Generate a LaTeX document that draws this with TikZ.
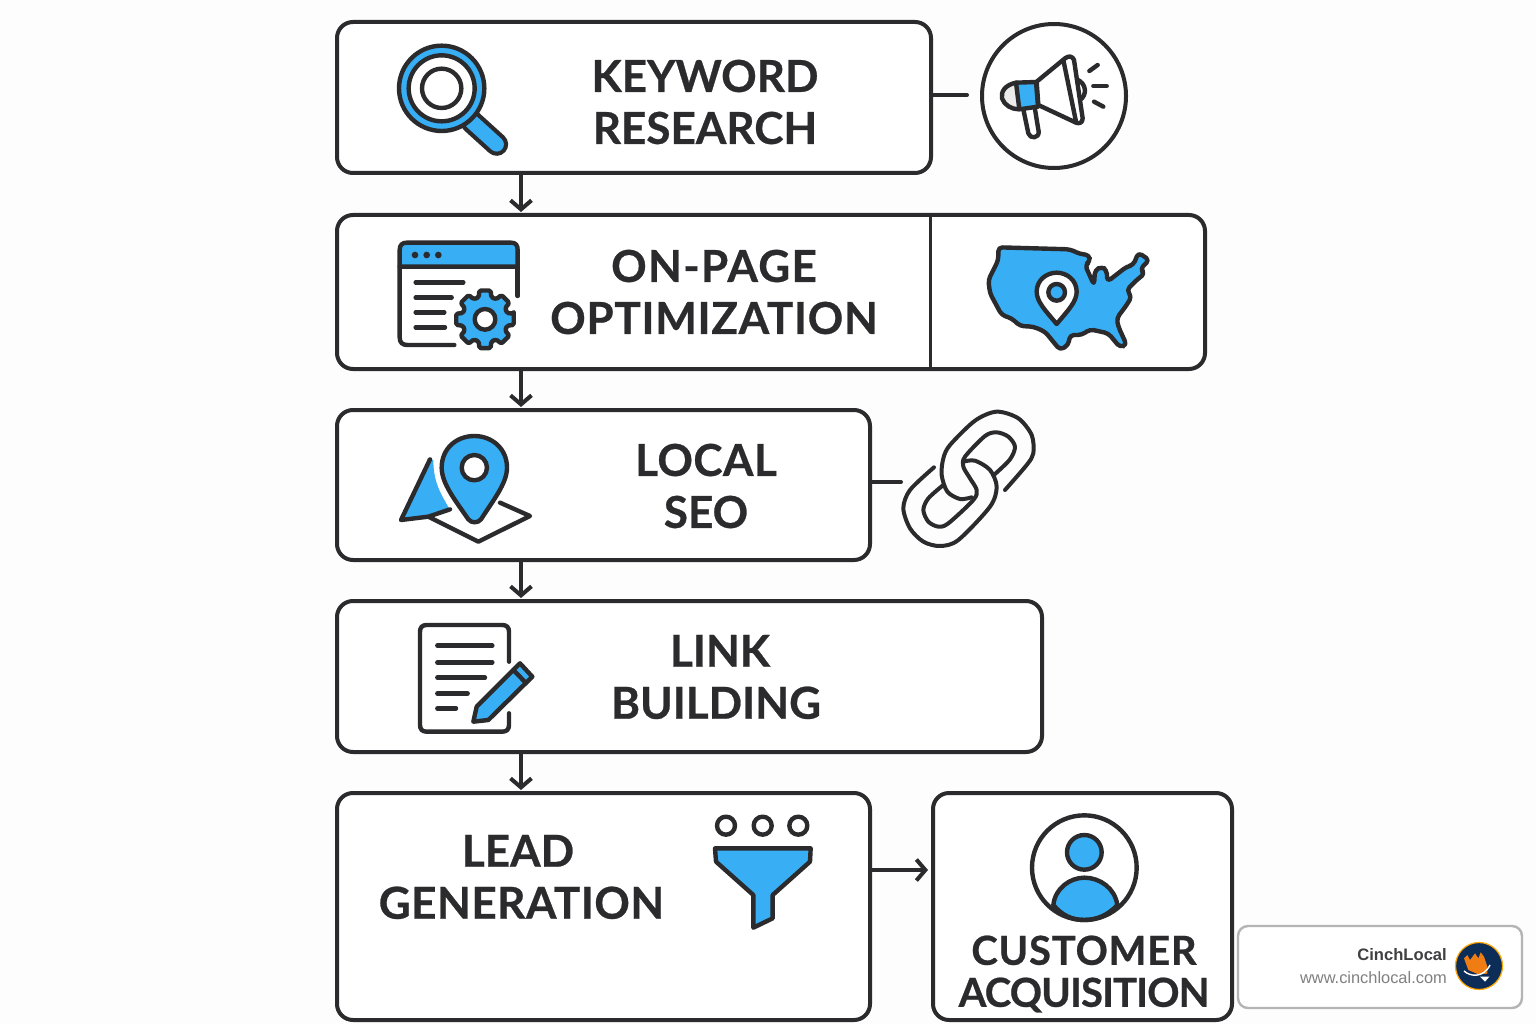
\documentclass[tikz,border=0pt]{standalone}
\usepackage{fontspec}
\setmainfont{Liberation Sans}
\newfontfamily\labfont{Lato}[BoldFeatures={FakeBold=0.6}]
\newcommand{\lsp}[2]{{\addfontfeatures{LetterSpace=#1}#2}}
\definecolor{ink}{HTML}{2B2B2D}
\definecolor{sky}{HTML}{38AEF5}
\definecolor{paper}{HTML}{FDFDFD}
\definecolor{grayline}{HTML}{B4B4B4}
\definecolor{navy}{HTML}{0C2D57}
\definecolor{flame}{HTML}{F07C14}
\usetikzlibrary{arrows.meta,calc}
\tikzset{
  zm/.style 2 args={shift={(#1,#2)},x=0.33333pt,y=-0.33333pt},
  ic/.style={draw=ink,line width=4.4pt,line join=round,line cap=round},
  icb/.style={ic,fill=sky},
  icw/.style={ic,fill=white},
  flowbox/.style={draw=ink,line width=4pt,fill=white,rounded corners=16pt,inner sep=0pt,outer sep=0pt,anchor=north west},
  label/.style={inner sep=0pt,align=center,text=ink,font=\labfont\bfseries\fontsize{44}{52}\selectfont},
  smalllabel/.style={inner sep=0pt,align=center,text=ink,font=\labfont\bfseries\fontsize{40}{42}\selectfont},
  flowarrow/.style={draw=ink,line width=4pt,shorten >=3pt,-{Straight Barb[length=9pt,width=21pt,line width=4pt]}},
  tie/.style={draw=ink,line width=4pt,line cap=round},
}
\begin{document}
\begin{tikzpicture}[x=1pt,y=-1pt]
\useasboundingbox (0,0) rectangle (1536,1024);
\fill[paper] (0,0) rectangle (1536,1024);
% boxes
\node[flowbox,minimum width=594pt,minimum height=151pt] (b1) at (337,22) {};
\node[flowbox,minimum width=868pt,minimum height=154pt] (b2) at (337,215) {};
\node[flowbox,minimum width=533pt,minimum height=150pt] (b3) at (337,410) {};
\node[flowbox,minimum width=705pt,minimum height=151pt] (b4) at (337,601) {};
\node[flowbox,minimum width=533pt,minimum height=227pt] (b5) at (337,793) {};
\node[flowbox,minimum width=299pt,minimum height=227pt] (b6) at (933,793) {};
\draw[draw=ink,line width=3pt] (930,215) -- (930,369);
% labels
\node[label] (t1) at (705,102) {KEYWORD\\RESEARCH};
\node[label] (t2) at (714,292) {\lsp{3}{ON-PAGE}\\\lsp{1.6}{OPTIMIZATION}};
\node[label] (t3) at (706,486) {\lsp{1}{LOCAL}\\SEO};
\node[label] (t4) at (716,677) {\hspace*{8pt}LINK\\BUILDING};
\node[label] (t5) at (521.5,877) {\hspace*{-7pt}LEAD\\\lsp{1.1}{GENERATION}};
\node[smalllabel] (t6) at (1084,974) {\lsp{1.9}{CUSTOMER}\\\lsp{-2.2}{ACQUISITION}};
% connectors
\draw[flowarrow] (b1.south -| 521,0) -- (b2.north -| 521,0);
\draw[flowarrow] (b2.south -| 521,0) -- (b3.north -| 521,0);
\draw[flowarrow] (b3.south -| 521,0) -- (b4.north -| 521,0);
\draw[flowarrow] (b4.south -| 521,0) -- (b5.north -| 521,0);
\draw[flowarrow,shorten >=5pt] (b5.east |- 0,870) -- (b6.west |- 0,870);
\coordinate (m1) at (967,95);\coordinate (m2) at (901,482);
\draw[tie] (b1.east |- m1) -- (m1);
\draw[tie] (b3.east |- m2) -- (m2);
% magnifier
\begin{scope}[zm={380}{20}]
\draw[ink,line width=23pt,line cap=round] (275,305) -- (350,373);
\draw[sky,line width=14.5pt,line cap=round] (275,305) -- (350,373);
\draw[icb] (185,205) circle (128);
\draw[icw] (185,205) circle (99);
\draw[icw] (185,205) circle (59);
\end{scope}
% megaphone
\node[draw=ink,line width=4pt,circle,minimum size=144pt,inner sep=0pt,outer sep=0pt,fill=white] (mega) at (1054,96) {};
\begin{scope}[zm={930}{10}]
\draw[ic,fill=white] (440,208) .. controls (470,220) and (472,255) .. (450,270);
\draw[icw] (320,215) -- (405,145) .. controls (418,135) and (428,140) .. (432,150) -- (458,325) .. controls (458,338) and (448,342) .. (438,338) -- (325,285) -- cycle;
\draw[ic] (400,150) -- (438,335);
\draw[icw] (280,298) -- (295,370) .. controls (300,388) and (328,385) .. (326,365) -- (314,292);
\draw[ic,fill=white!92!black] (258,218) .. controls (225,225) and (212,245) .. (216,265) .. controls (222,285) and (245,298) .. (266,298);
\draw[icb] (258,218) -- (318,216) -- (324,290) -- (268,298) -- cycle;
\draw[ic] (478,183) -- (503,165);
\draw[ic] (490,228) -- (530,228);
\draw[ic] (492,275) -- (520,290);
\end{scope}
% window with gear
\begin{scope}[zm={385}{230}]
\draw[icb] (44,110) -- (44,60) .. controls (44,45) and (52,38) .. (65,38) -- (378,38) .. controls (392,38) and (398,45) .. (398,60) -- (398,110) -- cycle;
\draw[ic] (44,110) -- (44,322) .. controls (44,338) and (52,345) .. (68,345) -- (208,345);
\draw[ic] (398,110) -- (398,198);
\foreach \cx in {90,125,160} \fill[ink] (\cx,75) circle (10);
\foreach \ya/\xb in {157/235,203/200,247/178,292/180} \draw[ic] (92,\ya) -- (\xb,\ya);
\begin{scope}[shift={(300,268)}]
\draw[icb,rounded corners=1.5pt] (-11:88)
  \foreach \a in {0,45,...,315} { -- (\a-11:88) -- (\a+11:88) -- (\a+16:69) -- (\a+29:69) }
  -- cycle;
\draw[icw] (0,0) circle (31);
\end{scope}
\end{scope}
% USA
\begin{scope}[zm={970}{230}]
\draw[icb,rounded corners=4pt] (85,52) -- (300,58) -- (330,72) -- (358,75) -- (360,95) -- (345,105) -- (372,165) -- (375,120) -- (395,110) -- (410,120) -- (412,155) -- (470,110) -- (490,105) -- (505,68) -- (538,90) -- (510,118) -- (525,130) -- (500,150) -- (470,180) -- (485,200) -- (470,225) -- (440,265) -- (445,290) -- (470,345) -- (450,352) -- (415,310) -- (360,298) -- (335,315) -- (300,315) -- (295,345) -- (270,360) -- (225,305) -- (190,290) -- (150,288) -- (125,265) -- (95,255) -- (60,190) -- (55,150) -- (85,90) -- cycle;
\draw[icw] (260,282) .. controls (225,240) and (200,215) .. (200,185) .. controls (200,150) and (230,128) .. (260,128) .. controls (290,128) and (320,150) .. (320,185) .. controls (320,215) and (295,240) .. (260,282) -- cycle;
\draw[icb] (260,187) circle (25);
\end{scope}
% local pin
\begin{scope}[zm={385}{420}]
\fill[sky] (135,118) -- (50,300) -- (195,270) .. controls (170,225) and (145,190) .. (145,120) -- cycle;
\draw[ic] (135,118) -- (48,300) -- (130,290) -- (195,268);
\draw[ic] (130,290) -- (280,365) -- (435,288) -- (345,248);
\draw[icb] (250,298) .. controls (210,240) and (170,190) .. (170,143) .. controls (170,85) and (215,48) .. (268,48) .. controls (320,48) and (366,85) .. (366,143) .. controls (366,190) and (325,240) .. (288,298) .. controls (278,310) and (260,310) .. (250,298) -- cycle;
\draw[icw] (268,143) circle (38);
\end{scope}
% chain
\begin{scope}[zm={860}{400},ic/.append style={line width=4pt}]
\draw[ic,smooth] plot coordinates {(335,292) (300,297) (262,275) (245,225) (250,175) (270,135) (345,62) (410,35) (475,55) (515,105) (520,160) (500,195) (435,270)};
\draw[ic,smooth] plot coordinates {(405,222) (450,178) (465,140) (445,110) (410,97) (375,108) (315,170) (310,200) (330,235) (350,270) (340,300) (265,370) (235,380) (205,365) (190,330) (205,295) (250,255)};
\draw[ic,smooth] plot coordinates {(222,202) (150,270) (130,325) (150,385) (190,425) (240,438) (295,420) (390,320) (410,260) (390,210) (345,182) (310,185)};
\end{scope}
% document
\begin{scope}[zm={405}{610}]
\draw[ic] (312,155) -- (312,65) .. controls (312,52) and (305,45) .. (292,45) -- (65,45) .. controls (52,45) and (45,52) .. (45,65) -- (45,345) .. controls (45,358) and (52,365) .. (65,365) -- (292,365) .. controls (305,365) and (312,358) .. (312,345) -- (312,310);
\foreach \ya/\xb in {107/262,157/262,203/240,250/188,295/153} \draw[ic] (97,\ya) -- (\xb,\ya);
\draw[icb] (345,160) -- (382,200) -- (250,330) -- (205,335) -- (215,290) -- cycle;
\draw[ic] (325,180) -- (362,218);
\end{scope}
% funnel
\begin{scope}[zm={700}{805}]
\foreach \cx in {78,188,295} \draw[icw] (\cx,62) circle (27);
\draw[icb] (45,130) -- (332,130) -- (330,170) -- (218,270) -- (218,340) -- (160,368) -- (160,270) -- (48,170) -- cycle;
\end{scope}
% user
\begin{scope}[zm={1020}{805}]
\draw[icb] (100,300) .. controls (105,250) and (150,218) .. (193,218) .. controls (240,218) and (285,250) .. (292,300) .. controls (265,330) and (230,345) .. (193,345) .. controls (155,345) and (125,330) .. (100,300) -- cycle;
\draw[icb] (193,142) circle (52);
\draw[ic] (193,188) circle (157);
\end{scope}
% badge
\node[draw=grayline,line width=2.4pt,fill=white,rounded corners=10pt,inner sep=0pt,outer sep=0pt,anchor=north west,minimum width=284pt,minimum height=82pt] (badge) at (1238,926) {};
\node[anchor=base east,inner sep=0pt,text=ink!90,font=\bfseries\fontsize{16.6}{20}\selectfont] (bn) at (1447,960) {CinchLocal};
\node[anchor=base east,inner sep=0pt,text=black!50,font=\fontsize{16.4}{18}\selectfont] (bu) at (1447,983) {www.cinchlocal.com};
\node[circle,draw=orange!70!yellow,line width=1.2pt,fill=navy,minimum size=47pt,inner sep=0pt] (lg) at (1479,966) {};
\begin{scope}[zm={1230}{915}]
\fill[flame] (702,130) -- (712,120) -- (720,135) -- (735,115) -- (745,130) -- (752,112) -- (762,125) -- (772,155) -- (772,176) -- (745,178) -- (715,165) -- cycle;
\draw[white,line width=1.4pt] (702,168) .. controls (720,185) and (760,190) .. (780,150);
\fill[white] (750,185) -- (778,185) -- (765,200) -- cycle;
\end{scope}
\end{tikzpicture}
\end{document}
